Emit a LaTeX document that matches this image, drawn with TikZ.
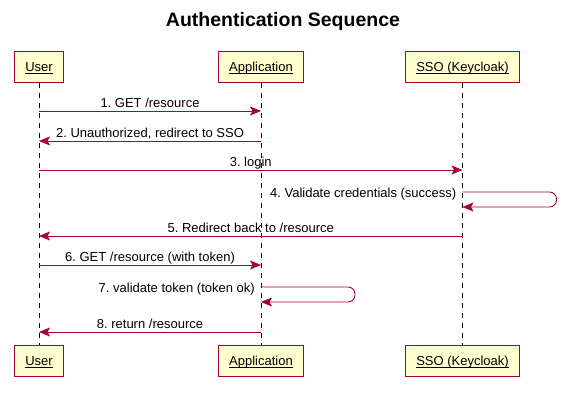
\documentclass[tikz,border=0pt]{standalone}
\usepackage{fontspec}
\setmainfont{Liberation Sans}
\usetikzlibrary{arrows.meta}
\definecolor{umlred}{HTML}{A80036}
\definecolor{umlfill}{HTML}{FEFECE}
\newcommand{\ulname}[1]{\underline{\smash{#1}}}
\frenchspacing
\begin{document}
\begin{tikzpicture}[x=1pt, y=-1pt,
		actor/.style={draw=umlred, fill=umlfill, line width=1.2pt, minimum height=31pt, inner xsep=10.5pt, text height=9.3pt, text depth=0pt, font=\fontsize{13}{15}\selectfont},
		lifeline/.style={draw=black, line width=0.8pt, dash pattern=on 5pt off 5pt},
		msg/.style={draw=umlred, line width=0.9pt, -{Stealth[length=11pt, width=9pt, inset=2.5pt]}, font=\fontsize{13}{15}\selectfont},
		lbl/.style={anchor=base, inner sep=0pt, yshift=3pt}]
		\useasboundingbox (0,0) rectangle (566,401);
		
		\node [font=\bfseries\fontsize{19.5}{22}\selectfont] (title) at (283,21) {Authentication Sequence};
		
		\node [actor] (userT) at (39,67) {\ulname{User}};
		\node [actor] (appT) at (261,67) {\ulname{Application}};
		\node [actor] (ssoT) at (462.5,67) {\ulname{SSO (Keycloak)}};
		\node [actor] (userB) at (39,361) {\ulname{User}};
		\node [actor] (appB) at (261,361) {\ulname{Application}};
		\node [actor] (ssoB) at (462.5,361) {\ulname{SSO (Keycloak)}};
		
		\draw [lifeline] (userT) -- (userB);
		\draw [lifeline] (appT) -- (appB);
		\draw [lifeline] (ssoT) -- (ssoB);
		
		\draw [msg] (userT |- 0,111) -- node [lbl] {1. GET /resource} (appT |- 0,111);
		\draw [msg] (appT |- 0,141) -- node [lbl] {2. Unauthorized, redirect to SSO} (userT |- 0,141);
		\draw [msg] (userT |- 0,170) -- node [lbl] {3. login} (ssoT |- 0,170);
		
		\draw [msg, rounded corners=7pt] (ssoT |- 0,192) -- ++(94,0) -- ++(0,15) -- (ssoT |- 0,207);
		\node [anchor=base east, inner sep=0pt, font=\fontsize{13}{15}\selectfont] (m4) at ([xshift=-6pt, yshift=-5.5pt]ssoT |- 0,192) {4. Validate credentials (success)};
		
		\draw [msg] (ssoT |- 0,236) -- node [lbl] {5. Redirect back to /resource} (userT |- 0,236);
		\draw [msg] (userT |- 0,265) -- node [lbl] {6. GET /resource (with token)} (appT |- 0,265);
		
		\draw [msg, rounded corners=7pt] (appT |- 0,287) -- ++(94,0) -- ++(0,15) -- (appT |- 0,302);
		\node [anchor=base east, inner sep=0pt, font=\fontsize{13}{15}\selectfont] (m7) at ([xshift=-6pt, yshift=-5.5pt]appT |- 0,287) {7. validate token (token ok)};
		
		\draw [msg] (appT |- 0,332) -- node [lbl] {8. return /resource} (userT |- 0,332);
	\end{tikzpicture}
\end{document}
